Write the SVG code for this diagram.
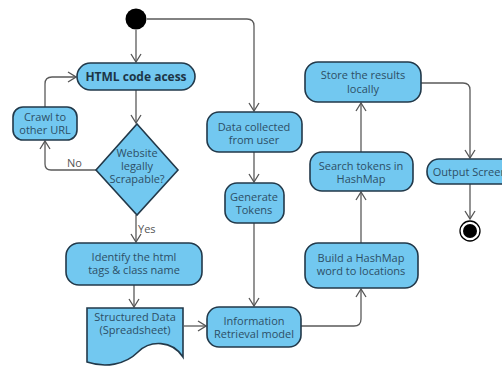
<svg xmlns="http://www.w3.org/2000/svg" width="502" height="367" viewBox="0 0 502 367">
<defs>
<marker id="arr" markerWidth="10" markerHeight="12" refX="9" refY="6" orient="auto" markerUnits="userSpaceOnUse">
<path d="M1,1 L9,6 L1,11" fill="none" stroke="#555" stroke-width="1.3"/>
</marker>
<style>
.n{fill:#72c8f0;stroke:#22394a;stroke-width:1.6}
.t{font-family:"Open Sans","Noto Sans",sans-serif;font-size:11px;fill:#2d4f66;text-anchor:middle}
.b{font-weight:bold;font-size:12px;fill:#1d3547}
.l{font-family:"Open Sans","Noto Sans",sans-serif;font-size:11px;fill:#555}
.c{fill:none;stroke:#5a5a5a;stroke-width:1.3;marker-end:url(#arr)}
</style>
</defs>
<rect width="502" height="367" fill="#fff"/>
<g id="connectors">
<path class="c" d="M136,30 V62"/>
<path class="c" d="M147,19 H247 Q254,19 254,26 V111"/>
<path class="c" d="M136,90 V123"/>
<path class="c" d="M96,170 H51 Q45,170 45,164 V141"/>
<path class="c" d="M45,107 V84 Q45,77 52,77 H76"/>
<path class="c" d="M136,215 V242"/>
<path class="c" d="M134,285 V307"/>
<path class="c" d="M184,326 H206"/>
<path class="c" d="M254,152 V182"/>
<path class="c" d="M254,223 V306"/>
<path class="c" d="M301,326 H354 Q361,326 361,319 V289"/>
<path class="c" d="M361,243 V192"/>
<path class="c" d="M361,152 V103"/>
<path class="c" d="M421,83 H463 Q470,83 470,90 V158"/>
<path class="c" d="M470,184 V219"/>
</g>
<g id="labels">
<text class="l" x="67" y="167">No</text>
<text class="l" x="138" y="233">Yes</text>
</g>
<g id="start"><circle cx="136" cy="19" r="10.5" fill="#000"/></g>
<g id="html"><rect class="n" x="77" y="63" width="118" height="27" rx="13.5"/><text class="t b" x="136" y="81">HTML code acess</text></g>
<g id="crawl"><rect class="n" x="13" y="107" width="64" height="33" rx="10"/><text class="t" x="45" y="121">Crawl to</text><text class="t" x="45" y="134">other URL</text></g>
<g id="decision"><path class="n" d="M137,124 L178,170 L137,215 L96,170 Z"/><text class="t" x="137" y="157">Website</text><text class="t" x="137" y="170">legally</text><text class="t" x="137" y="183">Scrapable?</text></g>
<g id="identify"><rect class="n" x="66" y="243" width="136" height="42" rx="13"/><text class="t" x="134" y="261">Identify the html</text><text class="t" x="134" y="274">tags &amp; class name</text></g>
<g id="structured"><path class="n" d="M87,308 H183 V357 C172,340 150,340 138,352 C125,365 105,368 87,362 Z"/><text class="t" x="135" y="321">Structured Data</text><text class="t" x="135" y="334">(Spreadsheet)</text></g>
<g id="datauser"><rect class="n" x="207" y="112" width="95" height="40" rx="12"/><text class="t" x="254" y="131">Data collected</text><text class="t" x="254" y="144">from user</text></g>
<g id="tokens"><rect class="n" x="225" y="183" width="59" height="40" rx="12"/><text class="t" x="254" y="201">Generate</text><text class="t" x="254" y="214">Tokens</text></g>
<g id="inforet"><rect class="n" x="207" y="307" width="94" height="40" rx="12"/><text class="t" x="254" y="325">Information</text><text class="t" x="254" y="338">Retrieval model</text></g>
<g id="build"><rect class="n" x="305" y="243" width="113" height="45" rx="13"/><text class="t" x="361" y="262">Build a HashMap</text><text class="t" x="361" y="275">word to locations</text></g>
<g id="search"><rect class="n" x="310" y="152" width="103" height="39" rx="12"/><text class="t" x="361" y="170">Search tokens in</text><text class="t" x="361" y="183">HashMap</text></g>
<g id="store"><rect class="n" x="305" y="62" width="116" height="40" rx="13"/><text class="t" x="363" y="79">Store the results</text><text class="t" x="363" y="93">locally</text></g>
<g id="output"><rect class="n" x="427" y="159" width="90" height="25" rx="12"/><text class="t" x="470" y="176">Output Screen</text></g>
<g id="end"><circle cx="470" cy="231" r="10" fill="#fff" stroke="#000" stroke-width="1.3"/><circle cx="470" cy="231" r="7" fill="#000"/></g>
</svg>
